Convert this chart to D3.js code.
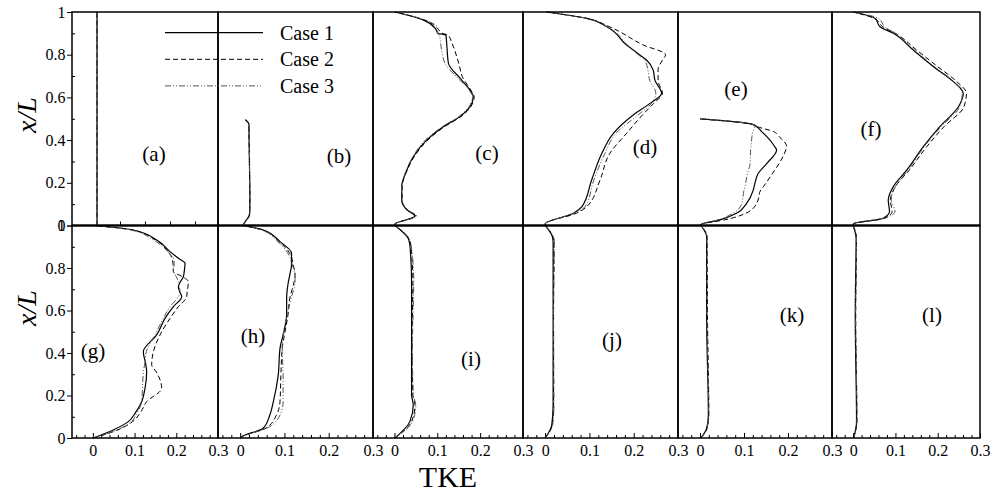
<!DOCTYPE html>
<html>
<head>
<meta charset="utf-8">
<script src="https://cdn.jsdelivr.net/npm/d3@7"></script>
<style>
  html, body { margin: 0; padding: 0; background: #fff; }
  svg { display: block; }
  text { font-family: "Liberation Serif", "Times New Roman", serif; fill: #000; }
</style>
</head>
<body>
<svg id="chart" width="991" height="495"></svg>
<script>
// ---- TKE profiles along x/L, one grid of x/L levels per station ----
const caseNames = ["Case 1", "Case 2", "Case 3"];
const panelLetters = ["a", "b", "c", "d", "e", "f", "g", "h", "i", "j", "k", "l"];
const xTicksMajor = [0, 0.1, 0.2, 0.3];
const yTicksMajor = [0, 0.2, 0.4, 0.6, 0.8, 1];

const xlA = [0, 1];
const tkeA1 = [0.01, 0.01];
const tkeA2 = [0.01, 0.01];
const tkeA3 = [0.01, 0.01];

const xlB = [0, 0.02, 0.05, 0.1, 0.3, 0.45, 0.47, 0.485, 0.495];
const tkeB1 = [0.006, 0.012, 0.021, 0.022, 0.021, 0.02, 0.02, 0.017, 0.012];
const tkeB2 = [0.006, 0.012, 0.021, 0.022, 0.021, 0.02, 0.02, 0.017, 0.012];
const tkeB3 = [0.006, 0.013, 0.022, 0.022, 0.021, 0.021, 0.02, 0.017, 0.012];

const xlC = [0, 0.007, 0.044, 0.073, 0.119, 0.182, 0.26, 0.322, 0.40, 0.463, 0.51, 0.556, 0.603, 0.635, 0.69, 0.76, 0.85, 0.892, 0.90, 0.924, 0.963, 1.0];
const tkeC1 = [0, 0.001, 0.048, 0.029, 0.017, 0.017, 0.029, 0.044, 0.075, 0.114, 0.153, 0.176, 0.184, 0.176, 0.153, 0.126, 0.122, 0.12, 0.102, 0.095, 0.067, 0.001];
const tkeC2 = [0, 0.001, 0.05, 0.03, 0.018, 0.018, 0.03, 0.046, 0.078, 0.117, 0.155, 0.178, 0.186, 0.178, 0.16, 0.15, 0.135, 0.125, 0.112, 0.1, 0.07, 0.001];
const tkeC3 = [0, 0.001, 0.052, 0.031, 0.018, 0.017, 0.028, 0.043, 0.072, 0.112, 0.15, 0.174, 0.182, 0.174, 0.148, 0.118, 0.108, 0.105, 0.1, 0.102, 0.07, 0.001];

const xlD = [0, 0.007, 0.057, 0.088, 0.213, 0.338, 0.432, 0.518, 0.572, 0.619, 0.68, 0.728, 0.775, 0.80, 0.845, 0.931, 0.97, 1.0];
const tkeD1 = [0, 0.0, 0.064, 0.083, 0.105, 0.128, 0.154, 0.199, 0.237, 0.263, 0.248, 0.244, 0.229, 0.213, 0.184, 0.139, 0.094, 0.003];
const tkeD2 = [0, 0.0, 0.07, 0.094, 0.124, 0.146, 0.184, 0.22, 0.245, 0.265, 0.255, 0.255, 0.265, 0.272, 0.222, 0.145, 0.094, 0.003];
const tkeD3 = [0, 0.0, 0.066, 0.09, 0.11, 0.135, 0.16, 0.21, 0.24, 0.25, 0.236, 0.232, 0.225, 0.21, 0.186, 0.14, 0.094, 0.003];

const xlE = [0, 0.007, 0.026, 0.057, 0.104, 0.166, 0.182, 0.245, 0.291, 0.354, 0.369, 0.416, 0.44, 0.463, 0.475, 0.499];
const tkeE1 = [0, 0.004, 0.045, 0.083, 0.106, 0.121, 0.123, 0.1325, 0.152, 0.174, 0.17, 0.152, 0.14, 0.129, 0.1175, 0.0];
const tkeE2 = [0, 0.004, 0.055, 0.104, 0.129, 0.138, 0.144, 0.165, 0.18, 0.195, 0.197, 0.18, 0.167, 0.13, 0.1175, 0.0];
const tkeE3 = [0, 0.004, 0.04, 0.075, 0.095, 0.1, 0.102, 0.108, 0.114, 0.115, 0.116, 0.118, 0.12, 0.125, 0.1175, 0.0];

const xlF = [0, 0.007, 0.034, 0.065, 0.119, 0.182, 0.26, 0.369, 0.463, 0.556, 0.619, 0.674, 0.744, 0.822, 0.90, 0.931, 0.97, 1.0];
const tkeF1 = [0, 0.0, 0.071, 0.086, 0.083, 0.095, 0.127, 0.166, 0.205, 0.249, 0.2605, 0.237, 0.19, 0.142, 0.095, 0.0635, 0.052, 0.0];
const tkeF2 = [0, 0.0, 0.075, 0.092, 0.088, 0.1, 0.133, 0.174, 0.215, 0.262, 0.268, 0.245, 0.2, 0.15, 0.1, 0.07, 0.05, 0.0];
const tkeF3 = [0, 0.0, 0.072, 0.099, 0.09, 0.1, 0.13, 0.168, 0.208, 0.252, 0.258, 0.238, 0.192, 0.145, 0.1, 0.075, 0.06, 0.0];

const xlG = [0, 0.038, 0.077, 0.116, 0.171, 0.234, 0.312, 0.344, 0.406, 0.485, 0.563, 0.618, 0.665, 0.689, 0.712, 0.736, 0.759, 0.783, 0.822, 0.846, 0.877, 0.932, 0.979, 1.0];
const tkeG1 = [0.001, 0.049, 0.085, 0.101, 0.117, 0.125, 0.129, 0.127, 0.121, 0.153, 0.173, 0.193, 0.213, 0.208, 0.205, 0.21, 0.217, 0.219, 0.221, 0.205, 0.185, 0.153, 0.097, 0.005];
const tkeG2 = [0.001, 0.06, 0.095, 0.113, 0.129, 0.165, 0.152, 0.141, 0.145, 0.161, 0.185, 0.205, 0.225, 0.226, 0.228, 0.229, 0.215, 0.193, 0.192, 0.19, 0.18, 0.15, 0.095, 0.005];
const tkeG3 = [0.001, 0.058, 0.092, 0.105, 0.117, 0.119, 0.121, 0.124, 0.128, 0.149, 0.169, 0.185, 0.205, 0.209, 0.207, 0.205, 0.2, 0.193, 0.195, 0.193, 0.18, 0.145, 0.09, 0.005];

const xlH = [0, 0.006, 0.046, 0.108, 0.171, 0.296, 0.422, 0.485, 0.579, 0.657, 0.736, 0.767, 0.814, 0.869, 0.924, 0.979, 1.0];
const tkeH1 = [0.0, 0.0035, 0.052, 0.067, 0.075, 0.086, 0.09, 0.097, 0.105, 0.105, 0.109, 0.112, 0.116, 0.116, 0.09, 0.052, 0.007];
const tkeH2 = [0, 0.004, 0.058, 0.082, 0.09, 0.092, 0.095, 0.1, 0.108, 0.112, 0.122, 0.124, 0.12, 0.112, 0.088, 0.05, 0.007];
const tkeH3 = [0, 0.004, 0.06, 0.09, 0.097, 0.097, 0.095, 0.097, 0.106, 0.115, 0.124, 0.124, 0.118, 0.108, 0.085, 0.048, 0.007];

const xlI = [0, 0.077, 0.155, 0.202, 0.422, 0.736, 0.908, 0.94, 1.0];
const tkeI1 = [0.001, 0.036, 0.044, 0.04, 0.04, 0.04, 0.036, 0.032, 0.001];
const tkeI2 = [0.001, 0.04, 0.048, 0.043, 0.041, 0.043, 0.038, 0.033, 0.001];
const tkeI3 = [0.001, 0.042, 0.05, 0.044, 0.042, 0.045, 0.039, 0.034, 0.001];

const xlJ = [0, 0.061, 0.155, 0.58, 0.924, 0.955, 1.0];
const tkeJ1 = [0.0, 0.015, 0.018, 0.018, 0.018, 0.015, 0.0];
const tkeJ2 = [0.0, 0.016, 0.019, 0.019, 0.02, 0.016, 0.0];
const tkeJ3 = [0.0, 0.017, 0.02, 0.019, 0.021, 0.017, 0.0];

const xlK = [0, 0.045, 0.108, 0.58, 0.947, 1.0];
const tkeK1 = [0.002, 0.015, 0.019, 0.015, 0.015, 0.002];
const tkeK2 = [0.002, 0.016, 0.02, 0.017, 0.016, 0.002];
const tkeK3 = [0.002, 0.016, 0.02, 0.016, 0.016, 0.002];

const xlL = [0, 0.077, 0.58, 0.94, 1.0];
const tkeL1 = [0.001, 0.008, 0.005, 0.007, 0.0];
const tkeL2 = [0.001, 0.009, 0.006, 0.008, 0.0];
const tkeL3 = [0.001, 0.009, 0.006, 0.008, 0.0];

const panelData = [
  [xlA, tkeA1, tkeA2, tkeA3], [xlB, tkeB1, tkeB2, tkeB3], [xlC, tkeC1, tkeC2, tkeC3],
  [xlD, tkeD1, tkeD2, tkeD3], [xlE, tkeE1, tkeE2, tkeE3], [xlF, tkeF1, tkeF2, tkeF3],
  [xlG, tkeG1, tkeG2, tkeG3], [xlH, tkeH1, tkeH2, tkeH3], [xlI, tkeI1, tkeI2, tkeI3],
  [xlJ, tkeJ1, tkeJ2, tkeJ3], [xlK, tkeK1, tkeK2, tkeK3], [xlL, tkeL1, tkeL2, tkeL3]
];

// ---- layout ----
const colEdges = [72, 218, 373, 523, 678, 832, 980];
const rowEdges = [12, 225.5, 438];
// label anchor inside each panel (centre x, baseline y)
const labelPos = [[154, 161], [339, 163], [487, 160], [645, 154], [736, 96], [871, 136],
                  [93, 358], [253, 343], [471, 366], [612, 347], [792, 322], [932, 322]];

const caseStyle = [
  { stroke: "#000", width: 1.2, dash: null },
  { stroke: "#000", width: 1.0, dash: "5,3" },
  { stroke: "#555", width: 1.0, dash: "6,2,1,2,1,2" }
];

const svg = d3.select("#chart");
const serif = '"Liberation Serif", "Times New Roman", serif';

panelData.forEach((pd, i) => {
  const row = Math.floor(i / 6), col = i % 6;
  const x0 = colEdges[col], x1 = colEdges[col + 1];
  const y0 = rowEdges[row], y1 = rowEdges[row + 1];
  const x = d3.scaleLinear().domain([-0.05, 0.3]).range([x0, x1]);
  const y = d3.scaleLinear().domain([0, 1]).range([y1, y0]);
  const g = svg.append("g");

  // profiles
  const line = d3.line().x(d => x(d[0])).y(d => y(d[1])).curve(d3.curveMonotoneY);
  [1, 2, 3].forEach(c => {
    const pts = pd[0].map((v, k) => [pd[c][k], v]);
    const s = caseStyle[c - 1];
    g.append("path").datum(pts)
      .attr("d", line)
      .attr("fill", "none")
      .attr("stroke", s.stroke)
      .attr("stroke-width", s.width)
      .attr("stroke-dasharray", s.dash);
  });

  // bottom axis on the lower row
  if (row === 1) {
    const minor = d3.range(-0.04, 0.301, 0.02).map(v => +v.toFixed(2)).filter(v => !xTicksMajor.includes(v));
    g.append("g").attr("transform", `translate(0,${y1})`)
      .call(d3.axisBottom(x).tickValues(minor).tickSize(-3).tickFormat(""))
      .call(a => a.select(".domain").remove())
      .call(a => a.selectAll("line").attr("stroke-width", 1));
    g.append("g").attr("transform", `translate(0,${y1})`)
      .call(d3.axisBottom(x).tickValues(xTicksMajor).tickSize(-5).tickPadding(7).tickFormat(d3.format("")))
      .call(a => a.select(".domain").remove())
      .call(a => a.selectAll("line").attr("stroke-width", 1))
      .call(a => a.selectAll("text").attr("font-size", 16).attr("font-family", serif));
  } else if (col === 0) {
    const topRowTicks = [0.065, 0.125, 0.185, 0.245];
    g.append("g").attr("transform", `translate(0,${y1})`)
      .call(d3.axisBottom(x).tickValues(topRowTicks).tickSize(-4).tickFormat(""))
      .call(a => a.select(".domain").remove());
  }

  // left axis on the first column
  if (col === 0) {
    g.append("g").attr("transform", `translate(${x0},0)`)
      .call(d3.axisLeft(y).tickValues(yTicksMajor).tickSize(5).tickPadding(1.5).tickFormat(d3.format("")))
      .call(a => a.select(".domain").remove())
      .call(a => a.selectAll("text").attr("font-size", 16).attr("font-family", serif));
    g.append("g").attr("transform", `translate(${x0},0)`)
      .call(d3.axisLeft(y).tickValues(d3.range(0.1, 1, 0.2)).tickSize(-3).tickFormat(""))
      .call(a => a.select(".domain").remove());
  }

  // frame
  g.append("rect")
    .attr("x", x0).attr("y", y0).attr("width", x1 - x0).attr("height", y1 - y0)
    .attr("fill", "none").attr("stroke", "#000").attr("stroke-width", 1.5);

  // station label
  g.append("text")
    .attr("x", labelPos[i][0]).attr("y", labelPos[i][1])
    .attr("text-anchor", "middle").attr("font-size", 21)
    .text(`(${panelLetters[i]})`);
});

// heavier divider between the rows
svg.append("line")
  .attr("x1", colEdges[0]).attr("x2", colEdges[6])
  .attr("y1", rowEdges[1]).attr("y2", rowEdges[1])
  .attr("stroke", "#000").attr("stroke-width", 2.2);

// legend
const legend = svg.append("g");
caseNames.forEach((name, k) => {
  const ly = 32.7 + k * 26.6;
  const s = caseStyle[k];
  legend.append("line").attr("x1", 165).attr("x2", 263).attr("y1", ly).attr("y2", ly)
    .attr("stroke", s.stroke).attr("stroke-width", s.width).attr("stroke-dasharray", s.dash);
  legend.append("text").attr("x", 280).attr("y", ly).attr("dy", "0.35em")
    .attr("font-size", 20).text(name);
});

// axis titles
[115, 308].forEach(cy => {
  svg.append("text")
    .attr("transform", `translate(36,${cy}) rotate(-90)`)
    .attr("text-anchor", "middle").attr("font-size", 28).attr("font-style", "italic")
    .text("x/L");
});
svg.append("text").attr("x", 448).attr("y", 487)
  .attr("text-anchor", "middle").attr("font-size", 30).text("TKE");
</script>
</body>
</html>
